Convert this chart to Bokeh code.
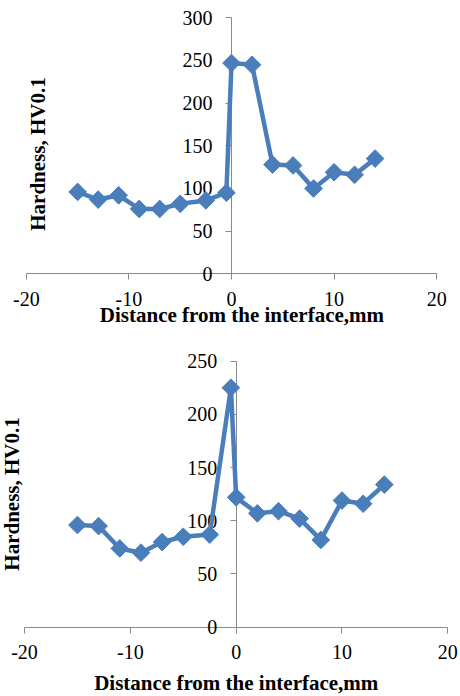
import numpy as np
from bokeh.plotting import figure
from bokeh.models import Range1d, FixedTicker, Label
from bokeh.layouts import column
from bokeh.embed import file_html
from bokeh.resources import INLINE

# ---- data ----
x_top = [-15, -13, -11, -9, -7, -5, -2.5, -0.5, 0, 2, 4, 6, 8, 10, 12, 14]
hv_top = [96, 87, 92, 76, 76, 82, 86, 95, 247, 245, 128, 127, 100, 119, 116, 135]
x_bottom = [-15, -13, -11, -9, -7, -5, -2.5, -0.5, 0, 2, 4, 6, 8, 10, 12, 14]
hv_bottom = [96, 95, 74, 70, 80, 85, 87, 225, 122, 107, 109, 102, 82, 119, 116, 134]
x_ticks = [-20, -10, 0, 10, 20]
x_tick_labels = ["-20", "-10", "0", "10", "20"]
y_ticks_top = [0, 50, 100, 150, 200, 250, 300]
y_ticks_bottom = [0, 50, 100, 150, 200, 250]
x_title = "Distance from the interface,mm"
y_title = "Hardness, HV0.1"

BLUE = "#4A7EBB"
AXIS = "#898989"
FONT = "Liberation Serif"


def make_chart(xs, ys, yticks, w, h, xr, yr, ylab_pos, xlab_pos):
    p = figure(width=w, height=h,
               x_range=Range1d(*xr), y_range=Range1d(*yr),
               output_backend="svg", toolbar_location=None, title=None,
               min_border=0)
    p.outline_line_color = None
    p.grid.visible = False
    p.background_fill_color = "white"
    p.border_fill_color = "white"

    for ax, ticks in ((p.xaxis, x_ticks), (p.yaxis, yticks)):
        ax.fixed_location = 0
        ax.bounds = (ticks[0], ticks[-1])
        ax.ticker = FixedTicker(ticks=ticks)
        ax.axis_line_color = AXIS
        ax.axis_line_width = 1
        ax.major_tick_line_color = AXIS
        ax.major_tick_out = 6
        ax.major_tick_in = 0
        ax.minor_tick_line_color = None
        ax.major_label_text_font = FONT
        ax.major_label_text_font_size = "20px"
        ax.major_label_text_color = "black"
    p.xaxis.major_label_overrides = {t: s for t, s in zip(x_ticks, x_tick_labels)}
    p.xaxis.major_label_standoff = 12
    p.yaxis.major_label_standoff = 13

    r1 = p.line(xs, ys, line_color=BLUE, line_width=4.5)
    r2 = p.scatter(xs, ys, marker="square", angle=np.pi / 4, size=12.5,
                   fill_color=BLUE, line_color=BLUE)
    r1.level = "overlay"
    r2.level = "overlay"

    p.add_layout(Label(x=ylab_pos[0], y=ylab_pos[1], text=y_title, angle=np.pi / 2,
                       text_align="center", text_baseline="middle",
                       text_font=FONT, text_font_style="bold",
                       text_font_size="21px", text_color="black"))
    p.add_layout(Label(x=xlab_pos[0], y=xlab_pos[1], text=x_title,
                       text_align="center", text_baseline="middle",
                       text_font=FONT, text_font_style="bold",
                       text_font_size="21px", text_color="black"))
    return p


p1 = make_chart(x_top, hv_top, y_ticks_top, 458, 340,
                (-22.52, 22.13), (-78.16, 320.3),
                (-18.82, 140.4), (1.02, -48.8))
p2 = make_chart(x_bottom, hv_bottom, y_ticks_bottom, 458, 355,
                (-22.27, 21.01), (-64.2, 269.4),
                (-21.18, 125.2), (0.01, -52.9))

layout = column(p1, p2, spacing=0)

open("out.html", "w").write(file_html(layout, INLINE))
